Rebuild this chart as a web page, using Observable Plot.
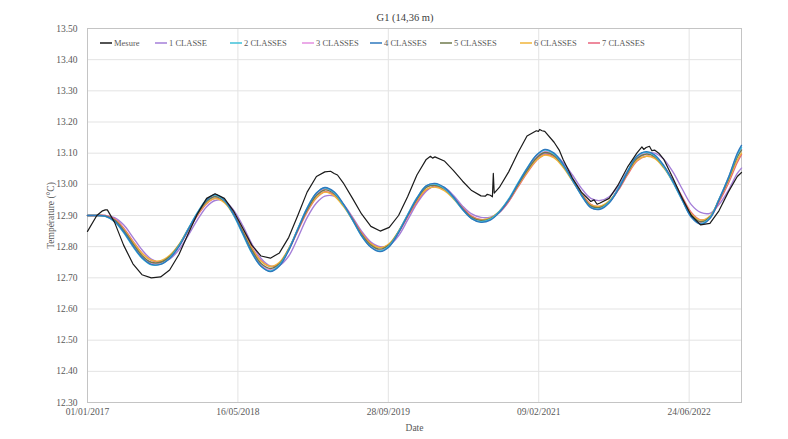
<!DOCTYPE html>
<html><head><meta charset="utf-8">
<script src="https://cdn.jsdelivr.net/npm/d3@7"></script>
<script src="https://cdn.jsdelivr.net/npm/@observablehq/plot@0.6"></script>
<style>
body{margin:0;background:#fff;}
#wrap{position:relative;width:788px;height:439px;font-family:"Liberation Serif",serif;}
#title{position:absolute;top:12px;left:305px;width:200px;text-align:center;font-size:10.5px;color:#404040;}
</style></head><body>
<div id="wrap"><div id="title">G1 (14,36 m)</div></div>
<script>
const seriesNames = ["Mesure","1 CLASSE","2 CLASSES","3 CLASSES","4 CLASSES","5 CLASSES","6 CLASSES","7 CLASSES"];
const seriesColors = ["#1a1a1a","#a57fd8","#3fc0d8","#e58fe0","#2e78be","#6f7a4c","#f0b53a","#e8637c"];
const xTickLabels = ["01/01/2017","16/05/2018","28/09/2019","09/02/2021","24/06/2022"];
const yTicks = [12.30,12.40,12.50,12.60,12.70,12.80,12.90,13.00,13.10,13.20,13.30,13.40,13.50];
const xStart = "2017-01-01", xEnd = "2022-12-15";

// model series: monthly values (1st of each month, Jan 2017 .. Dec 2022) + value on 15/12/2022
const class1 = [12.900,12.900,12.900,12.893,12.870,12.830,12.790,12.760,12.750,12.760,12.790,12.835,
12.885,12.928,12.948,12.947,12.918,12.868,12.810,12.762,12.738,12.740,12.770,12.828,
12.893,12.940,12.962,12.962,12.937,12.895,12.850,12.815,12.800,12.805,12.835,12.885,
12.938,12.978,12.995,12.990,12.965,12.930,12.905,12.894,12.895,12.910,12.945,12.995,
13.045,13.082,13.099,13.095,13.070,13.030,12.987,12.955,12.948,12.960,12.995,13.042,
13.080,13.098,13.100,13.080,13.040,12.985,12.935,12.910,12.907,12.935,12.980,13.035,13.052];
const class2 = [12.900,12.900,12.897,12.880,12.845,12.800,12.763,12.742,12.744,12.764,12.803,12.856,
12.909,12.951,12.966,12.948,12.902,12.840,12.780,12.737,12.722,12.741,12.791,12.858,
12.925,12.972,12.988,12.973,12.935,12.885,12.834,12.799,12.786,12.803,12.848,12.903,
12.957,12.995,13.001,12.987,12.957,12.918,12.890,12.880,12.888,12.913,12.953,13.003,
13.052,13.093,13.110,13.097,13.062,13.013,12.964,12.926,12.922,12.943,12.988,13.042,
13.090,13.103,13.092,13.056,13.006,12.948,12.895,12.874,12.893,12.952,13.020,13.095,13.118];
const class3 = [12.900,12.900,12.898,12.883,12.850,12.806,12.768,12.747,12.747,12.766,12.803,12.854,
12.906,12.947,12.962,12.947,12.905,12.846,12.787,12.742,12.726,12.743,12.790,12.855,
12.920,12.967,12.985,12.971,12.936,12.887,12.838,12.802,12.789,12.804,12.847,12.900,
12.953,12.992,12.999,12.987,12.958,12.920,12.892,12.882,12.889,12.912,12.950,12.998,
13.046,13.087,13.105,13.094,13.061,13.013,12.966,12.929,12.924,12.943,12.986,13.038,
13.085,13.100,13.091,13.057,13.008,12.951,12.899,12.877,12.893,12.950,13.016,13.090,13.112];
const class4 = [12.900,12.900,12.898,12.882,12.848,12.803,12.765,12.743,12.743,12.762,12.800,12.853,
12.907,12.950,12.967,12.950,12.905,12.843,12.782,12.737,12.720,12.738,12.788,12.855,
12.923,12.972,12.990,12.976,12.938,12.887,12.835,12.798,12.784,12.800,12.845,12.900,
12.955,12.995,13.003,12.990,12.960,12.920,12.890,12.878,12.885,12.910,12.950,13.000,
13.050,13.093,13.112,13.100,13.065,13.015,12.965,12.925,12.920,12.940,12.985,13.040,
13.090,13.105,13.095,13.060,13.010,12.950,12.895,12.872,12.890,12.950,13.020,13.100,13.125];
const class5 = [12.900,12.900,12.899,12.885,12.853,12.810,12.772,12.750,12.750,12.768,12.805,12.855,
12.905,12.945,12.960,12.946,12.905,12.848,12.790,12.746,12.730,12.745,12.792,12.855,
12.918,12.964,12.982,12.970,12.935,12.888,12.840,12.805,12.792,12.806,12.848,12.900,
12.952,12.990,12.997,12.986,12.958,12.922,12.894,12.884,12.890,12.913,12.950,12.997,
13.044,13.084,13.102,13.092,13.060,13.013,12.968,12.931,12.926,12.944,12.986,13.037,
13.083,13.097,13.089,13.056,13.009,12.953,12.902,12.880,12.895,12.950,13.015,13.088,13.110];
const class6 = [12.900,12.900,12.899,12.886,12.856,12.815,12.779,12.757,12.755,12.772,12.807,12.855,
12.903,12.940,12.954,12.941,12.903,12.850,12.795,12.753,12.737,12.750,12.795,12.855,
12.915,12.958,12.975,12.963,12.930,12.886,12.841,12.809,12.797,12.810,12.850,12.900,
12.948,12.984,12.991,12.980,12.954,12.921,12.895,12.886,12.892,12.914,12.949,12.994,
13.039,13.077,13.094,13.085,13.055,13.011,12.969,12.934,12.930,12.947,12.986,13.034,
13.077,13.090,13.083,13.052,13.008,12.955,12.906,12.885,12.898,12.950,13.010,13.078,13.100];
const class7 = [12.900,12.900,12.900,12.889,12.860,12.818,12.780,12.756,12.752,12.767,12.802,12.850,
12.899,12.938,12.955,12.944,12.908,12.855,12.799,12.755,12.736,12.746,12.790,12.850,
12.911,12.956,12.976,12.966,12.935,12.891,12.845,12.811,12.797,12.806,12.845,12.895,
12.944,12.982,12.992,12.983,12.958,12.925,12.898,12.887,12.890,12.910,12.945,12.990,
13.036,13.076,13.095,13.088,13.059,13.015,12.972,12.936,12.929,12.944,12.982,13.030,
13.074,13.090,13.086,13.057,13.013,12.960,12.910,12.886,12.895,12.943,13.002,13.070,13.095];

// measured series: monthly values + extra readings (noise / spike)
const mesureMonthly = [12.849,12.900,12.918,12.878,12.805,12.745,12.710,12.700,12.703,12.725,12.775,12.840,
12.905,12.955,12.970,12.955,12.915,12.860,12.805,12.770,12.763,12.780,12.830,12.900,
12.975,13.025,13.040,13.035,13.005,12.955,12.905,12.865,12.850,12.862,12.900,12.960,
13.030,13.080,13.088,13.075,13.045,13.010,12.980,12.963,12.965,12.990,13.040,13.100,
13.155,13.172,13.170,13.135,13.080,13.020,12.975,12.945,12.940,12.955,13.000,13.055,
13.100,13.118,13.110,13.080,13.020,12.955,12.900,12.870,12.875,12.915,12.975,13.025,13.038];
const mesureExtraDates = ["2017-02-20","2017-03-08","2019-03-20","2019-04-12","2020-02-15","2020-02-22","2020-08-15","2020-08-22","2020-09-08","2020-09-11","2020-09-14","2020-11-15","2021-02-08","2021-02-12","2021-02-20","2021-04-18","2021-08-12","2021-08-22","2022-01-18","2022-01-24","2022-02-12","2022-02-20","2022-03-15"];
const mesureExtraValues = [12.915,12.918,13.042,13.030,13.090,13.084,12.962,12.968,12.960,13.035,12.972,13.068,13.170,13.176,13.172,13.110,12.950,12.936,13.120,13.112,13.122,13.108,13.100];

const parseIso = d3.utcParse("%Y-%m-%d");
const parseFr = d3.utcParse("%d/%m/%Y");
const months = d3.utcMonth.range(parseIso("2017-01-01"), parseIso("2023-01-01"));
months.push(parseIso(xEnd));

const classSeries = [class1,class2,class3,class4,class5,class6,class7];
const rows = [];
// draw order: classes first, then measure on top
const drawOrder = [1,3,7,6,5,2,4];
for (const i of drawOrder) {
  classSeries[i-1].forEach((v,k) => rows.push({s: seriesNames[i], date: months[k], v}));
}
const mes = mesureMonthly.map((v,k) => ({s: "Mesure", date: months[k], v}));
mesureExtraDates.forEach((d,k) => mes.push({s:"Mesure", date: parseIso(d), v: mesureExtraValues[k]}));
mes.sort((a,b) => a.date - b.date);

const xTicks = xTickLabels.map(parseFr);

const chart = Plot.plot({
  width: 788, height: 439,
  marginLeft: 87, marginRight: 47, marginTop: 28, marginBottom: 37,
  style: {fontFamily: "Liberation Serif, serif", fontSize: "9px", color: "#595959", background: "#fff"},
  x: {type: "utc", domain: [parseIso(xStart), parseIso(xEnd)]},
  y: {domain: [12.3, 13.5]},
  color: {domain: seriesNames, range: seriesColors},
  marks: [
    Plot.ruleY(yTicks, {stroke: "#e3e3e3", strokeWidth: 1}),
    Plot.ruleX(xTicks, {stroke: "#e3e3e3", strokeWidth: 1}),
    Plot.frame({stroke: "#c4c4c4"}),
    Plot.axisY({ticks: yTicks, tickFormat: d => d.toFixed(2), tickSize: 0, tickPadding: 10,
      label: "Température (°C)", labelAnchor: "center", labelArrow: "none", labelOffset: 40, fontSize: 9.5}),
    Plot.axisX({ticks: xTicks, tickFormat: d3.utcFormat("%d/%m/%Y"), tickSize: 0, tickPadding: 6,
      label: "Date", labelAnchor: "center", labelArrow: "none", labelOffset: 28, fontSize: 9.5}),
    Plot.line(rows, {x: "date", y: "v", z: "s", stroke: "s", strokeWidth: 1.4, curve: "catmull-rom"}),
    Plot.line(mes, {x: "date", y: "v", stroke: seriesColors[0], strokeWidth: 1.2, curve: "linear"})
  ]
});
document.getElementById("wrap").appendChild(chart);

// legend inside the plot, top
const svg = d3.select(chart);
const legendStarts = [100,155,230,302,370,440,520,588];
const lg = svg.append("g").attr("font-family","Liberation Serif, serif").attr("font-size","8.5px").attr("fill","#595959").attr("text-anchor","start");
seriesNames.forEach((n,i) => {
  const g = lg.append("g").attr("transform", `translate(${legendStarts[i]},43)`);
  g.append("line").attr("x1",0).attr("x2",12).attr("y1",0).attr("y2",0).attr("stroke",seriesColors[i]).attr("stroke-width",1.5);
  g.append("text").attr("x",14).attr("y",0).attr("dy","0.33em").attr("text-anchor","start").text(n);
});
</script>
</body></html>
